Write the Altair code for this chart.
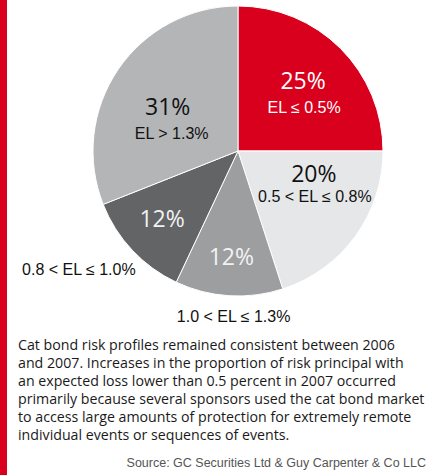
import math
import altair as alt
import pandas as pd

categories = ["EL ≤ 0.5%", "0.5 < EL ≤ 0.8%", "1.0 < EL ≤ 1.3%", "0.8 < EL ≤ 1.0%", "EL > 1.3%"]
shares = [25, 20, 12, 12, 31]
colors = ["#D9001E", "#E6E7E8", "#9D9EA0", "#636466", "#B4B5B7"]

body_lines = [
    "Cat bond risk profiles remained consistent between 2006",
    "and 2007. Increases in the proportion of risk principal with",
    "an expected loss lower than 0.5 percent in 2007 occurred",
    "primarily because several sponsors used the cat bond market",
    "to access large amounts of protection for extremely remote",
    "individual events or sequences of events.",
]
source = "Source: GC Securities Ltd & Guy Carpenter & Co LLC"

df = pd.DataFrame({"idx": list(range(len(categories))), "category": categories, "share": shares})

CX, CY, R = 238, 151, 145
theta_scale = alt.Scale(domain=[0, 100], range=[0, 2 * math.pi])

base = alt.Chart(df)

pie = base.mark_arc(stroke="white", strokeWidth=1).encode(
    theta=alt.Theta("share:Q", stack=True, scale=theta_scale),
    order=alt.Order("idx:Q"),
    color=alt.Color("category:N", scale=alt.Scale(domain=categories, range=colors), legend=None),
    x=alt.value(CX), y=alt.value(CY), radius=alt.value(R),
)

lab = base.transform_window(
    cum="sum(share)", sort=[alt.SortField("idx")], frame=[None, 0]
).transform_calculate(
    mid="datum.cum - datum.share / 2", pct="datum.share + '%'"
)


def label(idx, field, r, dx, dy, size, color, font):
    return lab.transform_filter(alt.datum.idx == idx).mark_text(
        dx=dx, dy=dy, fontSize=size, font=font, color=color, baseline="middle", align="center"
    ).encode(
        theta=alt.Theta("mid:Q", scale=theta_scale, stack=None),
        radius=alt.value(r),
        text=alt.Text(f"{field}:N"),
        x=alt.value(CX), y=alt.value(CY),
    )


PF = "Open Sans"
LF = "Liberation Sans"
SS = 16
labels = [
    label(0, "pct", 85, 5, -8.6, 23, "white", PF),
    label(0, "category", 85, 6, 17.6, SS, "white", LF),
    label(4, "pct", 85, 0, 5, 23, "#111", PF),
    label(4, "category", 85, 4, 31, SS, "#111", LF),
    label(1, "pct", 95, -1, -32, 23, "#111", PF),
    label(1, "category", 95, 0, -10, SS, "#111", LF),
    label(3, "pct", 100, -3, 0.5, 23, "#F2F2F2", PF),
    label(2, "pct", 107, 0, 0, 23, "#F2F2F2", PF),
    label(2, "category", 165, 6, 1, SS, "#111", LF),
    label(3, "category", 195, -17, -14.5, SS, "#111", LF),
]

one = alt.Chart(pd.DataFrame({"a": [0]}))
bar = one.mark_rect(color="#D9001E").encode(
    x=alt.value(0), x2=alt.value(7), y=alt.value(0), y2=alt.value(475)
)
body = one.mark_text(
    align="left", baseline="alphabetic", fontSize=14.2, lineHeight=18, font="Open Sans", color="#1A1A1A"
).encode(x=alt.value(18), y=alt.value(350), text=alt.value(body_lines))
src = one.mark_text(
    align="right", baseline="alphabetic", fontSize=12.5, font=LF, color="#555555"
).encode(x=alt.value(426), y=alt.value(467), text=alt.value(source))

chart = alt.layer(pie, *labels, bar, body, src).resolve_scale(theta="independent").properties(
    width=436, height=475, autosize=alt.AutoSizeParams(type="none"), padding=0, background="white"
).configure_view(stroke=None)

chart.save("out.html", embed_options={"renderer": "svg", "actions": False})
